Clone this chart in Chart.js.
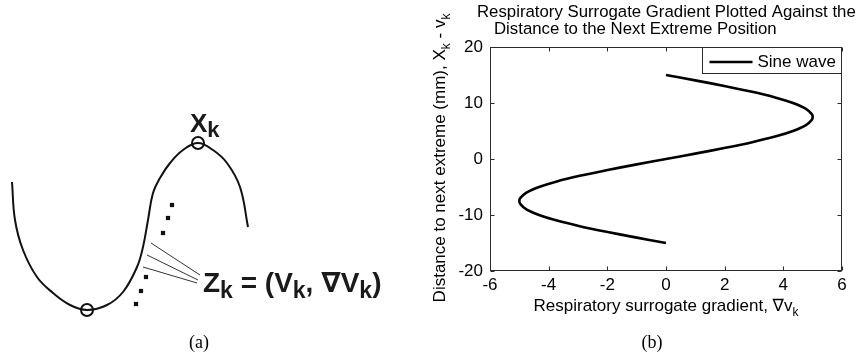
<!DOCTYPE html>
<html>
<head>
<meta charset="utf-8">
<script src="https://cdn.jsdelivr.net/npm/chart.js@4.4.0/dist/chart.umd.min.js"></script>
<style>
  html, body { margin: 0; padding: 0; background: #fff; }
  body { width: 859px; height: 360px; position: relative; overflow: hidden; }
  #wrapA { position: absolute; left: 0; top: 0; width: 420px; height: 360px; }
  #wrapB { position: absolute; left: 420px; top: 0; width: 439px; height: 360px; }
</style>
</head>
<body>
<div id="wrapA"><canvas id="sketchChart"></canvas></div>
<div id="wrapB"><canvas id="gradChart"></canvas></div>
<script>
// ---- panel (b): gradient vs distance to next extreme ----
const seriesLabel = 'Sine wave';
const distance = [-15, -14, -13, -12, -11, -10, -9, -8, -7.5, -7, -6, -5, -4, -3, -2, -1, 0,
                  1, 2, 3, 4, 5, 6, 7, 7.5, 8, 9, 10, 11, 12, 13, 14, 15];
const gradient = [0, -1.04, -2.03, -2.94, -3.72, -4.33, -4.76, -4.97, -5, -4.97, -4.76, -4.33, -3.72, -2.94, -2.03, -1.04, 0,
                  1.04, 2.03, 2.94, 3.72, 4.33, 4.76, 4.97, 5, 4.97, 4.76, 4.33, 3.72, 2.94, 2.03, 1.04, 0];
const xTicks = [-6, -4, -2, 0, 2, 4, 6];
const yTicks = [-20, -10, 0, 10, 20];

// ---- panel (a): sketch of the breathing trace ----
const sketchT = [1.2, 1.5, 2.3, 3.7, 5.3, 7.0, 8.7, 10.7, 12.3, 13.7, 14.3, 14.8, 15.3, 16.0, 17.0, 18.3, 19.8, 21.3, 22.7, 24.0, 24.8];
const sketchV = [-0.2, -4.0, -7.0, -9.7, -11.3, -12.5, -13.0, -12.5, -11.2, -8.7, -6.7, -4.0, -1.3, 0.2, 1.7, 3.0, 3.7, 3.0, 1.7, -0.7, -4.7];
const extremeT = [8.7, 19.8];
const extremeV = [-13.0, 3.7];
const dotT = [17.2, 16.8, 16.3, 14.6, 14.1, 13.6];
const dotV = [-2.5, -3.8, -5.3, -9.7, -11.1, -12.4];
const leaderFromT = [15.1, 14.7, 14.3];
const leaderFromV = [-6.3, -7.5, -8.7];
const leaderToT = [20.0, 19.8, 19.7];
const leaderToV = [-9.5, -10.0, -10.3];

const SANS = '"Liberation Sans", Arial, "DejaVu Sans", sans-serif';
const SERIF = '"Liberation Serif", "DejaVu Serif", serif';

// draw text with subscript parts: parts = [[text, isSub], ...]
function richWidth(ctx, parts, size, subSize, weight) {
    let w = 0;
    parts.forEach(p => {
        ctx.font = (weight || '') + ' ' + (p[1] ? subSize : size) + 'px ' + SANS;
        w += ctx.measureText(p[0]).width;
    });
    return w;
}
function drawRich(ctx, parts, x, y, size, subSize, subShift, align, weight) {
    let cx = x;
    if (align === 'center') cx = x - richWidth(ctx, parts, size, subSize, weight) / 2;
    ctx.textAlign = 'left';
    ctx.textBaseline = 'alphabetic';
    parts.forEach(p => {
        ctx.font = (weight || '') + ' ' + (p[1] ? subSize : size) + 'px ' + SANS;
        ctx.fillText(p[0], cx, p[1] ? y + subShift : y);
        cx += ctx.measureText(p[0]).width;
    });
}

const gradDecor = {
    id: 'gradDecor',
    afterDraw(chart) {
        const ctx = chart.ctx;
        const a = chart.chartArea;
        const xs = chart.scales.x, ys = chart.scales.y;
        const L = Math.round(a.left) + 0.5, R = Math.round(a.right) - 0.5;
        const T = Math.round(a.top) + 0.5, B = Math.round(a.bottom) - 0.5;
        ctx.save();
        ctx.strokeStyle = '#2b2b2b';
        ctx.lineWidth = 1;
        ctx.strokeRect(L, T, R - L, B - T);
        // inward ticks on all four sides
        const tl = 4;
        ctx.beginPath();
        xTicks.forEach(v => {
            const px = Math.round(xs.getPixelForValue(v)) + 0.5;
            ctx.moveTo(px, B); ctx.lineTo(px, B - tl);
            ctx.moveTo(px, T); ctx.lineTo(px, T + tl);
        });
        yTicks.forEach(v => {
            const py = Math.round(ys.getPixelForValue(v)) + 0.5;
            ctx.moveTo(L, py); ctx.lineTo(L + tl, py);
            ctx.moveTo(R, py); ctx.lineTo(R - tl, py);
        });
        ctx.stroke();

        // legend box in the upper right corner
        const ds = chart.data.datasets[0];
        const lbW = 139, lbH = 26;
        ctx.fillStyle = '#fff';
        ctx.fillRect(R - lbW, T, lbW, lbH);
        ctx.strokeRect(R - lbW, T, lbW, lbH);
        ctx.strokeStyle = ds.borderColor;
        ctx.lineWidth = ds.borderWidth;
        ctx.beginPath();
        ctx.moveTo(R - lbW + 7, T + 14.5);
        ctx.lineTo(R - lbW + 50, T + 14.5);
        ctx.stroke();
        ctx.fillStyle = '#000';
        ctx.font = '17px ' + SANS;
        ctx.textAlign = 'left';
        ctx.textBaseline = 'middle';
        ctx.fillText(ds.label, R - lbW + 55, T + 15);

        // title, two lines
        ctx.font = '16.8px ' + SANS;
        ctx.textBaseline = 'alphabetic';
        ctx.fillText('Respiratory Surrogate Gradient Plotted Against the', 57, 17);
        ctx.fillText('Distance to the Next Extreme Position', 74, 34);

        // x axis title
        drawRich(ctx, [['Respiratory surrogate gradient, \u2207v', false], ['k', true]],
            (a.left + a.right) / 2, 311, 17, 12, 5, 'center');

        // y axis title (rotated)
        ctx.translate(25, (a.top + a.bottom) / 2 - 1);
        ctx.rotate(-Math.PI / 2);
        drawRich(ctx, [['Distance to next extreme (mm), X', false], ['k', true], [' - v', false], ['k', true]],
            0, 0, 17, 12, 5, 'center');
        ctx.restore();
        ctx.save();
        ctx.fillStyle = '#000';
        ctx.font = '18px ' + SERIF;
        ctx.textAlign = 'center';
        ctx.textBaseline = 'middle';
        ctx.fillText('(b)', 232, 343);
        ctx.restore();
    }
};

new Chart(document.getElementById('gradChart'), {
    type: 'scatter',
    data: {
        datasets: [{
            label: seriesLabel,
            data: distance.map((d, i) => ({ x: gradient[i], y: d })),
            showLine: true,
            borderColor: '#000',
            borderWidth: 2.6,
            pointRadius: 0,
            tension: 0.3,
            fill: false
        }]
    },
    options: {
        responsive: true,
        maintainAspectRatio: false,
        animation: false,
        layout: { autoPadding: false, padding: { top: 47, right: 17, left: 0, bottom: 0 } },
        plugins: {
            legend: { display: false },
            tooltip: { enabled: false },
            title: { display: false }
        },
        scales: {
            x: {
                type: 'linear', min: -6, max: 6,
                afterBuildTicks: s => { s.ticks = xTicks.map(v => ({ value: v })); },
                afterFit: s => { s.height = 89; },
                grid: { display: false, drawTicks: false },
                border: { display: false },
                ticks: { color: '#000', padding: 4, font: { family: SANS, size: 17 } }
            },
            y: {
                type: 'linear', min: -20, max: 20,
                afterBuildTicks: s => { s.ticks = yTicks.map(v => ({ value: v })); },
                afterFit: s => { s.width = 70; },
                grid: { display: false, drawTicks: false },
                border: { display: false },
                ticks: { color: '#000', padding: 7, font: { family: SANS, size: 17 } }
            }
        }
    },
    plugins: [gradDecor]
});

// ---- panel (a) ----
const sketchDecor = {
    id: 'sketchDecor',
    afterDraw(chart) {
        const ctx = chart.ctx;
        const xs = chart.scales.x, ys = chart.scales.y;
        ctx.save();
        ctx.fillStyle = '#1a1a1a';
        drawRich(ctx, [['X', false], ['k', true]],
            xs.getPixelForValue(19.0), ys.getPixelForValue(4.8), 26, 22, 5, 'left', 'bold');
        drawRich(ctx, [['Z', false], ['k', true], [' = (V', false], ['k', true], [', \u2207V', false], ['k', true], [')', false]],
            xs.getPixelForValue(20.3), ys.getPixelForValue(-11.2), 28, 23, 6, 'left', 'bold');
        ctx.fillStyle = '#000';
        ctx.font = '18px ' + SERIF;
        ctx.textAlign = 'center';
        ctx.textBaseline = 'middle';
        ctx.fillText('(a)', 199, 343);
        ctx.restore();
    }
};

const leaderSets = leaderFromT.map((t, i) => ({
    data: [{ x: t, y: leaderFromV[i] }, { x: leaderToT[i], y: leaderToV[i] }],
    showLine: true,
    borderColor: '#333',
    borderWidth: 1,
    pointRadius: 0
}));

new Chart(document.getElementById('sketchChart'), {
    type: 'scatter',
    data: {
        datasets: [{
            data: sketchT.map((t, i) => ({ x: t, y: sketchV[i] })),
            showLine: true,
            borderColor: '#111',
            borderWidth: 2,
            pointRadius: 0,
            tension: 0.4
        }, {
            data: extremeT.map((t, i) => ({ x: t, y: extremeV[i] })),
            pointStyle: 'circle',
            pointRadius: 6,
            borderColor: '#111',
            borderWidth: 2,
            backgroundColor: 'rgba(0,0,0,0)'
        }, {
            data: dotT.map((t, i) => ({ x: t, y: dotV[i] })),
            pointStyle: 'rect',
            pointRadius: 3,
            borderWidth: 0,
            backgroundColor: '#111'
        }, ...leaderSets]
    },
    options: {
        responsive: true,
        maintainAspectRatio: false,
        animation: false,
        layout: { autoPadding: false, padding: 0 },
        plugins: { legend: { display: false }, tooltip: { enabled: false } },
        scales: {
            x: { type: 'linear', display: false, min: 0, max: 42 },
            y: { type: 'linear', display: false, min: -18, max: 18 }
        }
    },
    plugins: [sketchDecor]
});
</script>
</body>
</html>
